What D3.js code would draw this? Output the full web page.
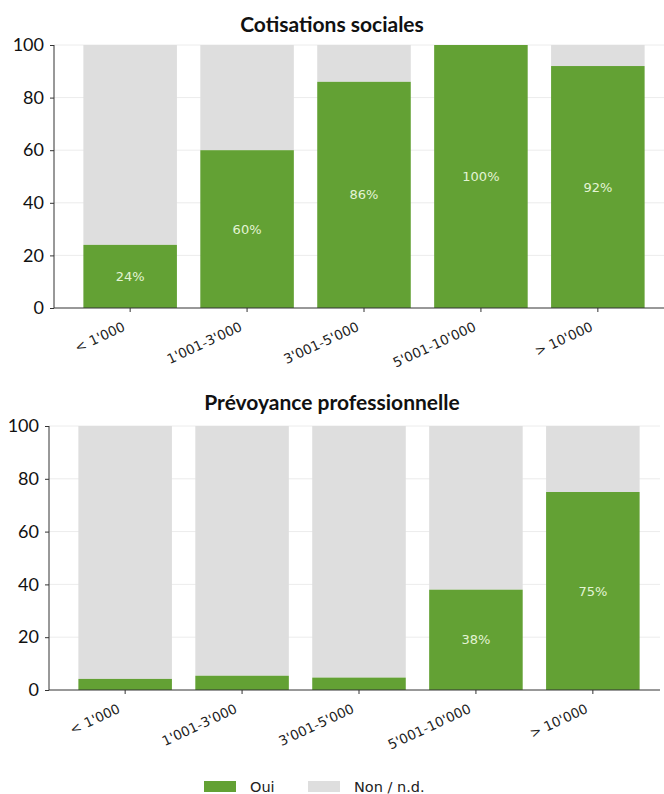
<!DOCTYPE html>
<html>
<head>
<meta charset="utf-8">
<script src="https://cdn.jsdelivr.net/npm/d3@7"></script>
<style>
  html, body { margin: 0; padding: 0; background: #ffffff; }
  svg { display: block; }
</style>
</head>
<body>
<svg id="chart" width="664" height="794"></svg>
<script>
// Income brackets (CHF per month)
const categories = ["< 1'000", "1'001-3'000", "3'001-5'000", "5'001-10'000", "> 10'000"];

// Share (%) answering "Oui" in each bracket
const cotisationsOui = [24, 60, 86, 100, 92];
const prevoyanceOui = [4.2, 5.4, 4.7, 38, 75];

const yTicks = [0, 20, 40, 60, 80, 100];
const panelTitles = ["Cotisations sociales", "Prévoyance professionnelle"];
const legendLabels = ["Oui", "Non / n.d."];

const GREEN = "#63a134";
const GREY = "#dedede";
const LABEL_MIN = 10; // values below this get no in-bar label

const svg = d3.select("#chart");

const panels = [
  { title: panelTitles[0], values: cotisationsOui, left: 54, right: 664, top: 45, bottom: 308, titleY: 32 },
  { title: panelTitles[1], values: prevoyanceOui, left: 49, right: 660, top: 426, bottom: 690, titleY: 410 }
];

panels.forEach(p => {
  const g = svg.append("g");

  const x = d3.scaleBand()
    .domain(categories)
    .range([p.left + 6, p.left + 614])
    .paddingInner(0.2)
    .paddingOuter(0.2);

  const y = d3.scaleLinear().domain([0, 100]).range([p.bottom, p.top]);

  // light horizontal grid
  g.append("g")
    .selectAll("line")
    .data(yTicks.filter(t => t > 0))
    .join("line")
    .attr("x1", p.left).attr("x2", p.right)
    .attr("y1", d => y(d)).attr("y2", d => y(d))
    .attr("stroke", "#ececec")
    .attr("stroke-width", 1);

  const rows = categories.map((c, i) => ({ cat: c, oui: p.values[i] }));

  // full-height background bar ("Non / n.d." = 100 - Oui)
  g.append("g")
    .selectAll("rect")
    .data(rows)
    .join("rect")
    .attr("x", d => x(d.cat))
    .attr("width", x.bandwidth())
    .attr("y", d => y(100))
    .attr("height", d => y(d.oui) - y(100))
    .attr("fill", GREY);

  // "Oui" bar
  g.append("g")
    .selectAll("rect")
    .data(rows)
    .join("rect")
    .attr("x", d => x(d.cat))
    .attr("width", x.bandwidth())
    .attr("y", d => y(d.oui))
    .attr("height", d => y(0) - y(d.oui))
    .attr("fill", GREEN);

  // value labels inside the green bars
  g.append("g")
    .selectAll("text")
    .data(rows.filter(d => d.oui >= LABEL_MIN))
    .join("text")
    .attr("x", d => x(d.cat) + x.bandwidth() / 2)
    .attr("y", d => (y(d.oui) + y(0)) / 2)
    .attr("text-anchor", "middle")
    .attr("dominant-baseline", "central")
    .attr("font-family", "DejaVu Sans, sans-serif")
    .attr("font-size", 13)
    .attr("fill", "#e4f4d4")
    .text(d => Math.round(d.oui) + "%");

  // y axis
  const yAxis = g.append("g")
    .attr("transform", `translate(${p.left},0)`)
    .call(d3.axisLeft(y).tickValues(yTicks).tickSize(4).tickPadding(6).tickFormat(d3.format("d")));
  yAxis.select(".domain").attr("stroke", "#333").attr("d", `M0,${p.bottom}V${p.top}`);
  yAxis.selectAll(".tick line").attr("stroke", "#333");
  yAxis.selectAll(".tick text")
    .attr("font-family", "Lato, 'Open Sans', sans-serif")
    .attr("font-size", 18)
    .attr("fill", "#111");

  // x axis
  const xAxis = g.append("g")
    .attr("transform", `translate(0,${p.bottom})`)
    .call(d3.axisBottom(x).tickSize(4).tickSizeOuter(0));
  xAxis.select(".domain").attr("stroke", "#333").attr("d", `M${p.left},0H${p.right}`);
  xAxis.selectAll(".tick line").attr("stroke", "#333");
  xAxis.selectAll(".tick text")
    .attr("font-family", "DejaVu Sans, sans-serif")
    .attr("font-size", 13.5)
    .attr("fill", "#222")
    .attr("text-anchor", "end")
    .attr("y", 0).attr("dy", 0)
    .attr("transform", "translate(-4,22) rotate(-25)");

  // panel title
  g.append("text")
    .attr("x", 332)
    .attr("y", p.titleY)
    .attr("text-anchor", "middle")
    .attr("font-family", "Lato, 'Open Sans', sans-serif")
    .attr("font-weight", "bold")
    .attr("font-size", 21)
    .attr("fill", "#111")
    .text(p.title);
});

// legend
const legend = svg.append("g");
const legendItems = [
  { label: legendLabels[0], color: GREEN, x: 204 },
  { label: legendLabels[1], color: GREY, x: 308 }
];
const li = legend.selectAll("g").data(legendItems).join("g")
  .attr("transform", d => `translate(${d.x},781)`);
li.append("rect").attr("width", 32).attr("height", 11).attr("fill", d => d.color);
li.append("text")
  .attr("x", 46).attr("y", 11)
  .attr("font-family", "DejaVu Sans, sans-serif")
  .attr("font-size", 14.5)
  .attr("fill", "#222")
  .text(d => d.label);
</script>
</body>
</html>
